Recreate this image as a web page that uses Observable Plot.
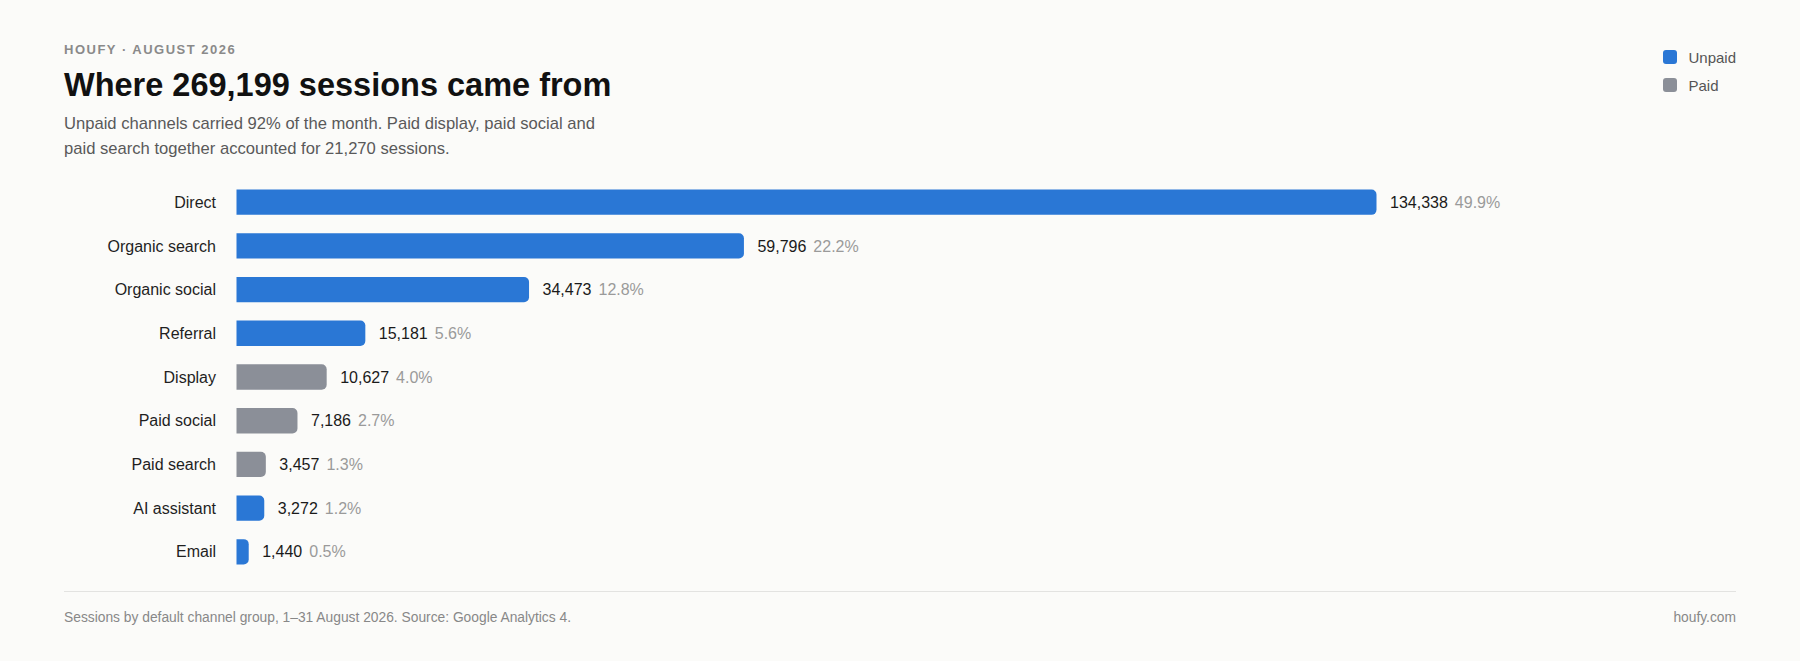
<!DOCTYPE html>
<html>
<head>
<meta charset="utf-8">
<script src="https://cdn.jsdelivr.net/npm/d3@7"></script>
<script src="https://cdn.jsdelivr.net/npm/@observablehq/plot@0.6"></script>
<style>
  html, body { margin: 0; padding: 0; background: #fbfbf9; }
  body { font-family: "Liberation Sans", Arial, Helvetica, sans-serif; width: 1800px; height: 661px; position: relative; overflow: hidden; }
  .wrap { position: absolute; left: 64px; top: 0; width: 1672px; }
  .eyebrow { position: absolute; top: 42px; left: 0; font-size: 13px; line-height: 16px; font-weight: bold; letter-spacing: 1.5px; color: #8a8a8a; white-space: nowrap; }
  .title { position: absolute; top: 66px; left: 0; font-size: 32.5px; line-height: 38px; font-weight: bold; color: #111; margin: 0; white-space: nowrap; }
  .subtitle { position: absolute; top: 112px; left: 0; font-size: 16.6px; line-height: 24.5px; color: #595959; width: 560px; }
  .legend { position: absolute; top: 43px; right: 0; font-size: 15px; color: #555; }
  .legend .item { display: flex; align-items: center; height: 28px; }
  .legend .sw { width: 14px; height: 14px; border-radius: 3px; margin-right: 11px; }
  #chart { position: absolute; top: 175px; left: 0; }
  .rule { position: absolute; top: 591px; left: 0; width: 1672px; height: 1px; background: #e3e3e1; }
  .foot { position: absolute; top: 609px; left: 0; width: 1672px; font-size: 13.8px; line-height: 18px; color: #888; display: flex; justify-content: space-between; }
</style>
</head>
<body>
<div class="wrap">
  <div class="eyebrow">HOUFY · AUGUST 2026</div>
  <h1 class="title">Where 269,199 sessions came from</h1>
  <div class="subtitle">Unpaid channels carried 92% of the month. Paid display, paid social and paid search together accounted for 21,270 sessions.</div>
  <div class="legend" id="legend"></div>
  <div id="chart"></div>
  <div class="rule"></div>
  <div class="foot"><span>Sessions by default channel group, 1–31 August 2026. Source: Google Analytics 4.</span><span>houfy.com</span></div>
</div>
<script>
const channels = ["Direct", "Organic search", "Organic social", "Referral", "Display", "Paid social", "Paid search", "AI assistant", "Email"];
const sessions = [134338, 59796, 34473, 15181, 10627, 7186, 3457, 3272, 1440];
const types = ["Unpaid", "Unpaid", "Unpaid", "Unpaid", "Paid", "Paid", "Paid", "Unpaid", "Unpaid"];
const shares = ["49.9%", "22.2%", "12.8%", "5.6%", "4.0%", "2.7%", "1.3%", "1.2%", "0.5%"];
const typeNames = ["Unpaid", "Paid"];
const typeColors = ["#2a77d5", "#8b8f98"];

const data = channels.map((c, i) => ({channel: c, value: sessions[i], type: types[i], share: shares[i]}));
const fmt = d3.format(",");

// legend
const legend = document.getElementById("legend");
typeNames.forEach((t, i) => {
  const it = document.createElement("div");
  it.className = "item";
  const sw = document.createElement("span");
  sw.className = "sw";
  sw.style.background = typeColors[i];
  const lb = document.createElement("span");
  lb.textContent = t;
  it.appendChild(sw); it.appendChild(lb);
  legend.appendChild(it);
});

const chart = Plot.plot({
  width: 1672,
  height: 401,
  marginLeft: 172.5,
  marginRight: 359.5,
  marginTop: 14.5,
  marginBottom: 11.5,
  style: {fontFamily: '"Liberation Sans", Arial, Helvetica, sans-serif', fontSize: "16px", color: "#1f1f1f", background: "transparent"},
  x: {domain: [0, d3.max(sessions)], axis: null},
  y: {domain: channels, paddingInner: 0.42, paddingOuter: 0, round: false, axis: null},
  color: {domain: typeNames, range: typeColors},
  marks: [
    Plot.barX(data, {y: "channel", x1: 0, x2: "value", fill: "type", rx2: 5}),
    Plot.axisY({tickSize: 0, tickPadding: 21, fontSize: 16, label: null, fill: "#1f1f1f"}),
    Plot.text(data, {
      x: "value", y: "channel", text: d => fmt(d.value), dx: 13, textAnchor: "start",
      fill: "#1a1a1a", fontSize: 16,
      render(index, scales, values, dimensions, context, next) {
        const g = next(index, scales, values, dimensions, context);
        d3.select(g).selectAll("text").each(function(_, j) {
          const d = data[index[j]];
          d3.select(this).append("tspan").attr("dx", 7).attr("fill", "#9a9a9a").text(d.share);
        });
        return g;
      }
    })
  ]
});
document.getElementById("chart").appendChild(chart);
</script>
</body>
</html>
